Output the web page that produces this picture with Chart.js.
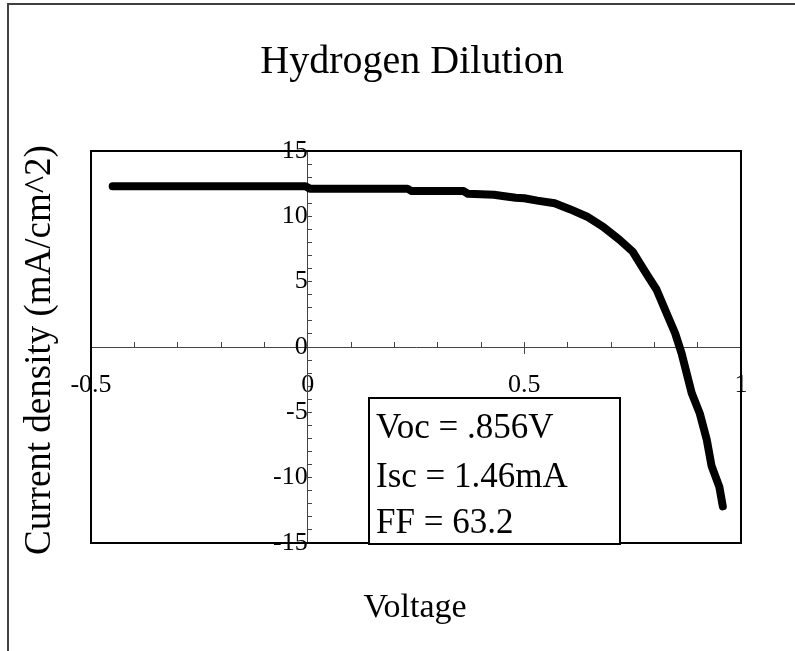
<!DOCTYPE html>
<html>
<head>
<meta charset="utf-8">
<script src="https://cdn.jsdelivr.net/npm/chart.js@4"></script>
<style>
  html, body { margin: 0; padding: 0; background: #fff; }
  #wrap { width: 795px; height: 651px; }
</style>
</head>
<body>
<div id="wrap"><canvas id="iv" width="795" height="651"></canvas></div>
<script>
// I-V curve
var voltage = [-0.45, -0.005, 0.005, 0.23, 0.24, 0.36, 0.37, 0.43, 0.45, 0.48, 0.5, 0.53, 0.57,
  0.605, 0.645, 0.682, 0.72, 0.75, 0.78, 0.805, 0.828, 0.848, 0.863, 0.886, 0.905, 0.921, 0.932, 0.95, 0.958];
var current = [12.3, 12.3, 12.12, 12.12, 11.93, 11.93, 11.72, 11.65, 11.55, 11.42, 11.38, 11.2, 11.0,
  10.55, 9.97, 9.2, 8.2, 7.3, 5.7, 4.4, 2.6, 1.05, -0.5, -3.5, -5.1, -7.1, -9.1, -10.7, -12.2];

var xTickLabels = [-0.5, 0, 0.5, 1];
var yTickLabels = [-15, -10, -5, 0, 5, 10, 15];
var boxLines = ["Voc = .856V", "Isc = 1.46mA", "FF = 63.2"];

var serif = '"Liberation Serif", "Times New Roman", serif';

function isLabel(list, v) {
  return list.some(function (t) { return Math.abs(t - v) < 1e-6; });
}

// frame, plot border, titles and the note box
var decor = {
  id: 'decor',
  afterDraw: function (chart) {
    var c = chart.ctx, a = chart.chartArea;
    c.save();
    c.strokeStyle = '#404040';
    c.lineWidth = 2;
    c.beginPath();
    c.moveTo(8, 660); c.lineTo(8, 4); c.lineTo(800, 4);
    c.stroke();

    c.strokeStyle = '#000';
    c.strokeRect(a.left, a.top, a.right - a.left, a.bottom - a.top);

    c.fillStyle = '#000';
    c.textAlign = 'center';
    c.textBaseline = 'alphabetic';
    c.font = '40px ' + serif;
    c.fillText('Hydrogen Dilution', 412, 73);
    c.font = '34px ' + serif;
    c.fillText('Voltage', 415, 617);
    c.save();
    c.translate(50, 350);
    c.rotate(-Math.PI / 2);
    c.font = '37px ' + serif;
    c.fillText('Current density (mA/cm^2)', 0, 0);
    c.restore();

    // text box
    c.fillStyle = '#fff';
    c.fillRect(369, 398, 251, 146);
    c.strokeRect(369, 398, 251, 146);
    c.fillStyle = '#000';
    c.textAlign = 'left';
    c.font = '35px ' + serif;
    var base = [438, 487, 533];
    boxLines.forEach(function (s, i) { c.fillText(s, 376, base[i]); });
    c.restore();
  }
};

new Chart(document.getElementById('iv'), {
  type: 'scatter',
  data: {
    datasets: [{
      data: voltage.map(function (v, i) { return { x: v, y: current[i] }; }),
      showLine: true,
      borderColor: '#000',
      borderWidth: 8,
      borderCapStyle: 'round',
      borderJoinStyle: 'round',
      pointRadius: 0,
      tension: 0
    }]
  },
  options: {
    responsive: false,
    animation: false,
    layout: { padding: { left: 91, top: 151, right: 54, bottom: 108 } },
    plugins: { legend: { display: false }, tooltip: { enabled: false } },
    scales: {
      x: {
        type: 'linear', min: -0.5, max: 1, position: { y: 0 },
        ticks: {
          stepSize: 0.1, autoSkip: false, maxRotation: 0, padding: 29, color: '#000',
          font: { family: serif, size: 26 },
          callback: function (v) { return isLabel(xTickLabels, v) ? String(Math.round(v * 10) / 10) : ''; }
        },
        grid: { drawOnChartArea: false, tickLength: -6, tickColor: '#444' },
        border: { color: '#444', width: 1 }
      },
      x2: {
        type: 'linear', min: -0.5, max: 1, position: { y: 0 },
        ticks: { stepSize: 0.5, display: false },
        grid: { drawOnChartArea: false, tickLength: 7, tickColor: '#444' },
        border: { display: false }
      },
      y: {
        type: 'linear', min: -15, max: 15, position: { x: 0 },
        ticks: {
          stepSize: 1, autoSkip: false, padding: 26, color: '#000',
          font: { family: serif, size: 26 },
          callback: function (v) { return isLabel(yTickLabels, v) ? String(v) : ''; }
        },
        grid: { drawOnChartArea: false, tickLength: -5, tickColor: '#444' },
        border: { color: '#444', width: 1 }
      }
    }
  },
  plugins: [decor]
});
</script>
</body>
</html>
